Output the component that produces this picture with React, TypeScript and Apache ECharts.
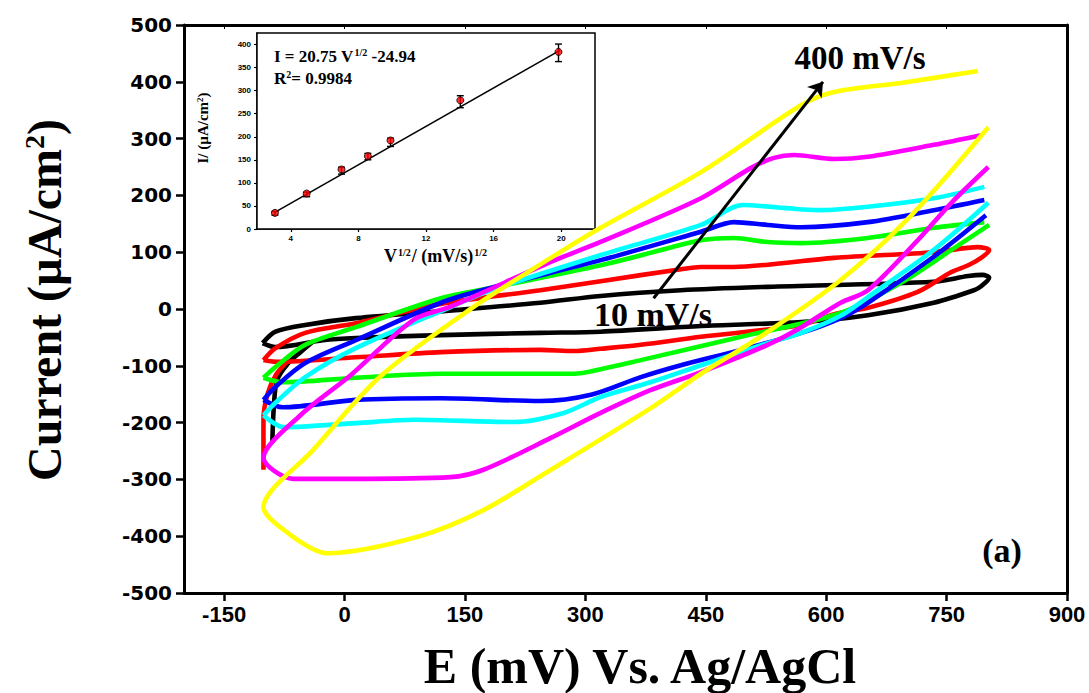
import React, { useEffect, useRef } from "react";
import * as echarts from "echarts";

// ---- main CV axes ----
const xTickValues = [-150, 0, 150, 300, 450, 600, 750, 900];

// ---- cyclic voltammograms [E (mV), I (µA/cm2)] ----
const black10 = [[-102,-60],[-86,-40],[-49,-28],[14,-16],[138,-2],[244,11],[319,23],[419,33],[527,39],[734,48],[777,58],[795,60],[803,55],[793,40],[784,33],[734,11],[652,-11],[569,-23],[444,-30],[319,-40],[244,-42],[120,-46],[14,-51],[-27,-55],[-86,-67],[-102,-60]];
const black10Tail = [[-90,-236],[-88,-170],[-84,-125],[-70,-95],[-55,-76],[-40,-58]];
const red25 = [[-101,-90],[-86,-69],[-49,-42],[14,-25],[120,9],[244,33],[319,49],[419,70],[444,74],[485,74],[527,78],[610,90],[734,100],[789,109],[803,104],[793,90],[777,77],[756,65],[714,30],[652,2],[610,-9],[569,-28],[444,-49],[369,-63],[319,-70],[286,-74],[244,-72],[120,-76],[14,-85],[-86,-93],[-101,-90]];
const red25Tail = [[-101,-283],[-101,-195],[-96,-150],[-85,-115],[-71,-92]];
const green50Up = [[797,153],[734,143],[652,125],[569,116],[527,118],[485,125],[444,121],[403,107],[319,77],[182,37],[120,19],[14,-32],[-49,-63],[-86,-102],[-101,-121]];
const green50Down = [[-101,-121],[-77,-129],[14,-121],[120,-114],[244,-114],[286,-114],[319,-106],[369,-90],[494,-49],[618,-7],[693,46],[756,104],[803,148]];
const blue75Up = [[797,192],[734,174],[652,153],[569,144],[527,148],[485,153],[444,136],[319,86],[182,37],[120,11],[14,-55],[-49,-95],[-86,-137],[-101,-160]];
const blue75Down = [[-101,-160],[-77,-173],[14,-160],[120,-157],[244,-162],[307,-151],[369,-120],[419,-99],[494,-72],[569,-42],[618,-16],[652,11],[734,92],[799,165]];
const cyan100Up = [[797,215],[734,195],[652,180],[590,174],[547,178],[496,183],[444,148],[319,95],[182,33],[138,7],[14,-69],[-49,-120],[-86,-165],[-101,-187]];
const cyan100Down = [[-101,-187],[-76,-208],[14,-201],[86,-195],[211,-199],[273,-183],[319,-155],[381,-129],[444,-99],[527,-60],[569,-42],[618,-12],[652,21],[734,104],[802,187]];
const magenta200 = [[802,250],[756,187],[714,121],[652,33],[618,11],[569,-32],[527,-63],[444,-111],[381,-143],[319,-183],[257,-227],[173,-283],[132,-296],[8,-299],[-64,-299],[-101,-262],[-55,-187],[8,-116],[86,-19],[132,4],[257,83],[319,118],[444,195],[506,248],[535,266],[560,271],[610,264],[652,268],[734,289],[793,306]];
const yellow400 = [[802,320],[706,165],[618,51],[519,-48],[444,-114],[381,-175],[257,-283],[173,-354],[91,-401],[-21,-430],[-64,-401],[-101,-349],[-39,-248],[45,-118],[157,0],[257,90],[319,143],[444,241],[569,359],[610,382],[693,398],[789,419]];

// arrow: 10 mV/s -> 400 mV/s
const arrowFrom = [385, 19];
const arrowTo = [596, 400];

// ---- inset: peak current vs sqrt(scan rate) ----
const insetX = [3.06, 4.94, 7.0, 8.56, 9.9, 14.03, 19.84];
const insetY = [35, 77, 129, 158, 192, 279, 384];
const insetLow = [30, 70, 119, 150, 179, 263, 363];
const insetHigh = [38, 80, 134, 164, 197, 289, 401];
const fitLine = [[3.05, 36], [19.95, 388]];
const insetXTicks = [4, 8, 12, 16, 20];
const insetYTicks = [0, 50, 100, 150, 200, 250, 300, 350, 400];

const SERIF = "'Liberation Serif', 'Times New Roman', serif";
const SANS = "'Liberation Sans', Arial, sans-serif";
const WIDE = "'DejaVu Sans', 'Liberation Sans', sans-serif";

function cvSeries(data: number[][], color: string, z: number) {
  return {
    type: "line",
    xAxisIndex: 0,
    yAxisIndex: 0,
    data,
    symbol: "none",
    showSymbol: false,
    smooth: 0.3,
    z,
    lineStyle: { color, width: 4.6 },
    silent: true,
  };
}

export default function App() {
  const ref = useRef<HTMLDivElement>(null);
  useEffect(() => {
    const chart = echarts.init(ref.current!, null, { renderer: "svg" });
    const option: any = {
      animation: false,
      backgroundColor: "#fff",
      grid: [
        { left: 184, top: 25, width: 883, height: 568, show: false },
        { left: 257, top: 33, width: 338, height: 196, show: true, backgroundColor: "#fff", borderColor: "#000", borderWidth: 1.5, z: 5 },
      ],
      xAxis: [
        {
          type: "value", gridIndex: 0, min: -200, max: 900, position: "bottom",
          axisLine: { show: true, onZero: false, lineStyle: { color: "#000", width: 3 } },
          axisTick: { show: true, inside: false, length: 8, customValues: xTickValues, lineStyle: { color: "#000", width: 2.5 } },
          axisLabel: { customValues: xTickValues, color: "#000", fontFamily: SANS, fontWeight: "bold", fontSize: 22, margin: 10 },
          splitLine: { show: false },
        },
        {
          type: "value", gridIndex: 0, min: -200, max: 900, position: "top",
          axisLine: { show: true, onZero: false, lineStyle: { color: "#000", width: 3 } },
          axisTick: { show: true, inside: true, length: 4, customValues: xTickValues, lineStyle: { color: "#000", width: 1 } },
          axisLabel: { show: false },
          splitLine: { show: false },
        },
        {
          type: "value", gridIndex: 1, min: 2, max: 22, position: "bottom",
          axisLine: { show: true, onZero: false, lineStyle: { color: "#000", width: 1.5 } },
          axisTick: { show: true, length: 3, customValues: insetXTicks, lineStyle: { color: "#000", width: 1.2 } },
          axisLabel: { customValues: insetXTicks, color: "#000", fontFamily: SANS, fontWeight: "bold", fontSize: 8, margin: 5 },
          splitLine: { show: false },
        },
      ],
      yAxis: [
        {
          type: "value", gridIndex: 0, min: -500, max: 500, interval: 100, position: "left",
          axisLine: { show: true, onZero: false, lineStyle: { color: "#000", width: 3 } },
          axisTick: { show: true, length: 8, lineStyle: { color: "#000", width: 2.5 } },
          axisLabel: { color: "#000", fontFamily: WIDE, fontWeight: "bold", fontSize: 20, margin: 12 },
          splitLine: { show: false },
        },
        {
          type: "value", gridIndex: 0, min: -500, max: 500, interval: 100, position: "right",
          axisLine: { show: true, onZero: false, lineStyle: { color: "#000", width: 3 } },
          axisTick: { show: false },
          axisLabel: { show: false },
          splitLine: { show: false },
        },
        {
          type: "value", gridIndex: 1, min: 0, max: 425, position: "left",
          axisLine: { show: true, onZero: false, lineStyle: { color: "#000", width: 1.5 } },
          axisTick: { show: true, length: 3, customValues: insetYTicks, lineStyle: { color: "#000", width: 1.2 } },
          axisLabel: { customValues: insetYTicks, color: "#000", fontFamily: SANS, fontWeight: "bold", fontSize: 8, margin: 6 },
          splitLine: { show: false },
        },
      ],
      series: [
        cvSeries(black10Tail, "#000000", 2),
        cvSeries(black10, "#000000", 2),
        cvSeries(red25Tail, "#ff0000", 3),
        cvSeries(red25, "#ff0000", 3),
        cvSeries(green50Up, "#00ff00", 4),
        cvSeries(green50Down, "#00ff00", 4),
        cvSeries(blue75Up, "#0000ff", 5),
        cvSeries(blue75Down, "#0000ff", 5),
        cvSeries(cyan100Up, "#00ffff", 6),
        cvSeries(cyan100Down, "#00ffff", 6),
        cvSeries(magenta200, "#ff00ff", 7),
        cvSeries(yellow400, "#ffff00", 8),
        {
          type: "lines",
          coordinateSystem: "cartesian2d",
          xAxisIndex: 0,
          yAxisIndex: 0,
          z: 9,
          symbol: ["none", "arrow"],
          symbolSize: 14,
          lineStyle: { color: "#000", width: 3, opacity: 1 },
          data: [{ coords: [arrowFrom, arrowTo] }],
          silent: true,
        },
        {
          type: "line",
          xAxisIndex: 2,
          yAxisIndex: 2,
          data: fitLine,
          symbol: "none",
          z: 10,
          lineStyle: { color: "#000", width: 1.5 },
          silent: true,
        },
        {
          type: "custom",
          xAxisIndex: 2,
          yAxisIndex: 2,
          z: 11,
          data: insetX.map((x, i) => [x, insetLow[i], insetHigh[i]]),
          encode: { x: 0, y: [1, 2] },
          renderItem: (params: any, api: any) => {
            const x = api.value(0);
            const lo = api.coord([x, api.value(1)]);
            const hi = api.coord([x, api.value(2)]);
            const w = 3.5;
            const st = { stroke: "#000", lineWidth: 1.4 };
            return {
              type: "group",
              children: [
                { type: "line", shape: { x1: lo[0], y1: lo[1], x2: hi[0], y2: hi[1] }, style: st },
                { type: "line", shape: { x1: lo[0] - w, y1: lo[1], x2: lo[0] + w, y2: lo[1] }, style: st },
                { type: "line", shape: { x1: hi[0] - w, y1: hi[1], x2: hi[0] + w, y2: hi[1] }, style: st },
              ],
            };
          },
          silent: true,
        },
        {
          type: "scatter",
          xAxisIndex: 2,
          yAxisIndex: 2,
          z: 12,
          data: insetX.map((x, i) => [x, insetY[i]]),
          symbol: "circle",
          symbolSize: 7,
          itemStyle: { color: "#ff0000", borderColor: "#000", borderWidth: 1 },
          silent: true,
        },
      ],
      graphic: [
        {
          type: "text", x: 44, y: 300, rotation: Math.PI / 2, z: 20,
          style: {
            text: "{a|Current (µA/cm}{s|2}{a|)}",
            align: "center", verticalAlign: "middle",
            rich: {
              a: { fontFamily: SERIF, fontWeight: "bold", fontSize: 48, fill: "#000" },
              s: { fontFamily: SERIF, fontWeight: "bold", fontSize: 28, fill: "#000", verticalAlign: "top", padding: [0, 0, 14, 0] },
            },
          },
        },
        {
          type: "text", x: 640, y: 666, z: 20,
          style: { text: "E (mV) Vs. Ag/AgCl", fontFamily: SERIF, fontWeight: "bold", fontSize: 50, fill: "#000", align: "center", verticalAlign: "middle" },
        },
        {
          type: "text", x: 860, y: 58, z: 20,
          style: { text: "400 mV/s", fontFamily: SERIF, fontWeight: "bold", fontSize: 33, fill: "#000", align: "center", verticalAlign: "middle" },
        },
        {
          type: "text", x: 653, y: 314, z: 20,
          style: { text: "10 mV/s", fontFamily: SERIF, fontWeight: "bold", fontSize: 34, fill: "#000", align: "center", verticalAlign: "middle" },
        },
        {
          type: "text", x: 1002, y: 550, z: 20,
          style: { text: "(a)", fontFamily: SERIF, fontWeight: "bold", fontSize: 34, fill: "#000", align: "center", verticalAlign: "middle" },
        },
        {
          type: "text", x: 274, y: 56, z: 20,
          style: {
            text: "{a|I = 20.75 V}{s|1/2}{a| -24.94}",
            align: "left", verticalAlign: "middle",
            rich: {
              a: { fontFamily: SERIF, fontWeight: "bold", fontSize: 17, fill: "#000" },
              s: { fontFamily: SERIF, fontWeight: "bold", fontSize: 10, fill: "#000", verticalAlign: "top", padding: [0, 0, 4, 1] },
            },
          },
        },
        {
          type: "text", x: 274, y: 78, z: 20,
          style: {
            text: "{a|R}{s|2}{a|= 0.9984}",
            align: "left", verticalAlign: "middle",
            rich: {
              a: { fontFamily: SERIF, fontWeight: "bold", fontSize: 17, fill: "#000" },
              s: { fontFamily: SERIF, fontWeight: "bold", fontSize: 10, fill: "#000", verticalAlign: "top", padding: [0, 0, 4, 0] },
            },
          },
        },
        {
          type: "text", x: 203, y: 128, rotation: Math.PI / 2, z: 20,
          style: {
            text: "{a|I/ (µA/cm}{s|2}{a|)}",
            align: "center", verticalAlign: "middle",
            rich: {
              a: { fontFamily: SERIF, fontWeight: "bold", fontSize: 15, fill: "#000" },
              s: { fontFamily: SERIF, fontWeight: "bold", fontSize: 9, fill: "#000", verticalAlign: "top", padding: [0, 0, 5, 0] },
            },
          },
        },
        {
          type: "text", x: 436, y: 256, z: 20,
          style: {
            text: "{a|V}{s|1/2}{a|/ (mV/s)}{s|1/2}",
            align: "center", verticalAlign: "middle",
            rich: {
              a: { fontFamily: SERIF, fontWeight: "bold", fontSize: 18, fill: "#000" },
              s: { fontFamily: SERIF, fontWeight: "bold", fontSize: 10, fill: "#000", verticalAlign: "top", padding: [0, 1, 6, 1] },
            },
          },
        },
      ],
    };
    chart.setOption(option);
    return () => chart.dispose();
  }, []);
  return (
    <div
      ref={ref}
      style={{ position: "fixed", left: 0, top: 0, width: 1089, height: 693, background: "#fff" }}
    />
  );
}
